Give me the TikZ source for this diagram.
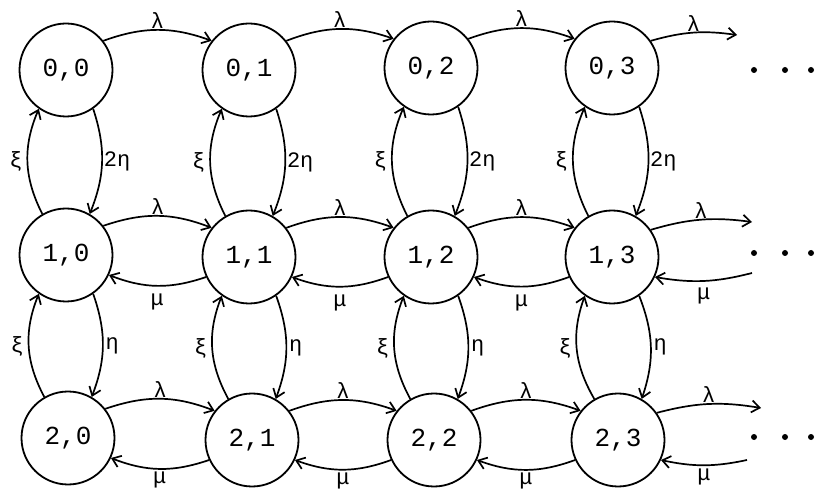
\documentclass[tikz,border=0pt]{standalone}
\usepackage{fontspec}
\setmainfont{Liberation Mono}
\usetikzlibrary{arrows.meta}
\begin{document}
\begin{tikzpicture}[x=1pt,y=1pt,
  state/.style={circle,draw,line width=1.8pt,minimum size=93pt,inner sep=0pt,font=\fontsize{26}{26}\selectfont},
  edge/.style={line width=1.7pt,-{Straight Barb[length=8pt,width=12pt,line width=1.7pt]}},
  lab/.style={font=\fontsize{22}{22}\selectfont,inner sep=1.5pt},
  dot/.style={circle,fill,inner sep=0pt,minimum size=6pt}]
\useasboundingbox (0,0) rectangle (815,-497);
% nodes
\node[state] (n00) at (66,-70) {0,0};
\node[state] (n01) at (249,-70) {0,1};
\node[state] (n02) at (431,-68) {0,2};
\node[state] (n03) at (612,-68) {0,3};
\node[state] (n10) at (66,-255) {1,0};
\node[state] (n11) at (249,-257) {1,1};
\node[state] (n12) at (431,-257) {1,2};
\node[state] (n13) at (612,-257) {1,3};
\node[state] (n20) at (68,-438) {2,0};
\node[state] (n21) at (252,-440) {2,1};
\node[state] (n22) at (434,-440) {2,2};
\node[state] (n23) at (618,-440) {2,3};
% free ends
\coordinate (e0) at (737,-35);
\coordinate (e1) at (752,-222);
\coordinate (e2) at (761,-408);
\coordinate (m1) at (752,-273);
\coordinate (m2) at (747,-460);
% lambda arrows
\foreach \r in {0,1,2}{
  \foreach \a/\b in {0/1,1/2,2/3}{
    \draw[edge] (n\r\a.38) to[bend left=20] node[lab,midway,above,inner sep=0.5pt] {λ} (n\r\b.142);
  }
}
\draw[edge] (n03.35) to[bend left=12] node[lab,midway,above,inner sep=0.5pt] {λ} (e0);
\draw[edge] (n13.35) to[bend left=12] node[lab,midway,above,inner sep=0.5pt] {λ} (e1);
\draw[edge] (n23.35) to[bend left=12] node[lab,midway,above,inner sep=0.5pt] {λ} (e2);
% mu arrows
\foreach \a/\b in {0/1,1/2,2/3}{
  \draw[edge] (n1\b.205) to[bend left=20] node[lab,midway,below,inner sep=7pt] {μ} (n1\a.335);
  \draw[edge] (n2\b.205) to[bend left=20] node[lab,midway,below,inner sep=2pt] {μ} (n2\a.335);
}
\draw[edge] (m1) to[bend left=12] node[lab,midway,below,inner sep=6pt] {μ} (n13.335);
\draw[edge] (m2) to[bend left=12] node[lab,midway,below,inner sep=3pt] {μ} (n23.335);
% vertical arrows
\foreach \c in {0,1,2,3}{
  \draw[edge] (n1\c.120) to[bend left=25] node[lab,midway,left,inner sep=4pt] {ξ} (n0\c.235);
  \draw[edge] (n0\c.305) to[bend left=20] node[lab,midway,right,inner sep=1pt] {2η} (n1\c.60);
  \draw[edge] (n2\c.120) to[bend left=25] node[lab,midway,left,inner sep=4pt] {ξ} (n1\c.235);
  \draw[edge] (n1\c.305) to[bend left=20] node[lab,midway,right,inner sep=2pt] {η} (n2\c.60);
}
% dots
\foreach \y in {-70,-253,-437}{
  \node[dot] (da\y) at (754,\y) {};
  \node[dot] (db\y) at (785,\y) {};
  \node[dot] (dc\y) at (811,\y) {};
}
\end{tikzpicture}
\end{document}
